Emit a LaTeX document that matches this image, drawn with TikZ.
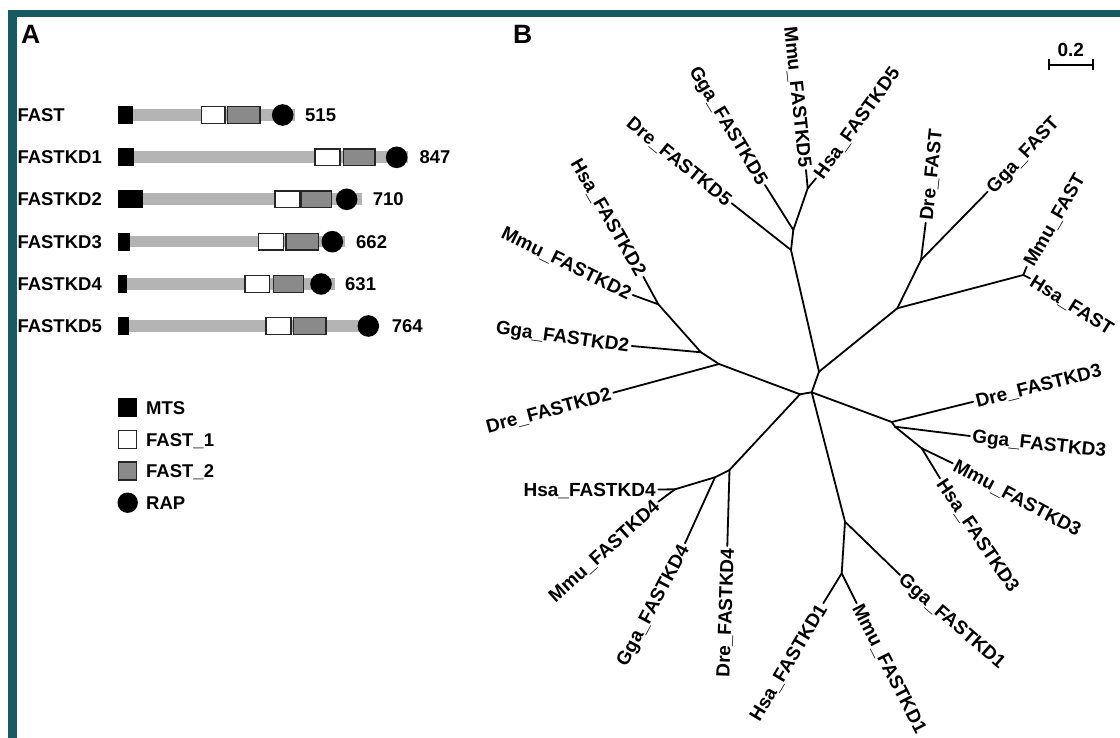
\documentclass[tikz,border=0pt]{standalone}
\usepackage{fontspec}
\setmainfont{Liberation Sans}
\definecolor{framecol}{HTML}{175A64}
\definecolor{barcol}{HTML}{B4B4B4}
\definecolor{dombox}{HTML}{8A8A8A}
\newcommand\tlabfont{\fontsize{19}{19}\selectfont\bfseries}
\newcommand\rowfont{\fontsize{18.5}{18.5}\selectfont\bfseries}
\newcommand\panelfont{\fontsize{26.5}{26.5}\selectfont\bfseries}
\begin{document}
\begin{tikzpicture}[x=1pt,y=-1pt,
  br/.style={line width=1.8pt, line cap=round, line join=round},
  lab/.style={font=\tlabfont, inner sep=2.5pt, text height=13.5pt, text depth=0pt},
  rowlab/.style={font=\rowfont, inner sep=0pt, text height=13.3pt, text depth=0pt, anchor=west},
  mtsbox/.style={fill=black},
  fonebox/.style={fill=white, draw=black!85, line width=1.4pt},
  ftwobox/.style={fill=dombox, draw=black!85, line width=1.4pt},
  rapdot/.style={fill=black},
  barstyle/.style={fill=barcol},
  framefill/.style={fill=framecol}]
\useasboundingbox (0,0) rectangle (1120,738);
\fill[white] (0,0) rectangle (1120,738);
% frame
\fill[framefill] (8,10) rectangle (1120,17);
\fill[framefill] (8,10) rectangle (17,738);

% panel letters
\node[font=\panelfont, inner sep=0pt, anchor=north west] (pA) at (21,25) {A};
\node[font=\panelfont, inner sep=0pt, anchor=north west] (pB) at (513,25) {B};

% ---------- Panel A ----------
% rows: y, mts end, fast1 s/e, fast2 s/e, rap x, bar end, number, number x
\foreach \nm/\yy/\me/\as/\ae/\bs/\be/\cx/\bend/\num/\nx/\id in {
  FAST/115/132.7/201.7/225/227.7/260/282.7/295/515/305/r0,
  FASTKD1/157.3/134.3/315/340/343.3/375/396.7/408.3/847/419.3/r1,
  FASTKD2/199.3/143.3/275/300/301.7/331.7/346.7/361.7/710/372.7/r2,
  FASTKD3/241.7/130/258.3/283.3/286/318.3/332.3/345/662/356/r3,
  FASTKD4/284/126.7/245/269.3/273.3/303.3/321/335/631/345/r4,
  FASTKD5/326/129/266/291/293.3/326/368.3/370/764/391.7/r5}{
  \node[rowlab] (\id name) at (17.3,\yy) {\nm};
  \fill[barstyle] (\me,\yy-5.8) rectangle (\bend,\yy+5.8);
  \fill[mtsbox] (118.3,\yy-9) rectangle (\me,\yy+9);
  \filldraw[fonebox] (\as,\yy-8.3) rectangle (\ae,\yy+8.3);
  \filldraw[ftwobox] (\bs,\yy-8.3) rectangle (\be,\yy+8.3);
  \fill[rapdot] (\cx,\yy) circle (10.8);
  \node[rowlab] (\id num) at (\nx,\yy) {\num};
}

% legend
\fill[mtsbox] (117.7,398.3) rectangle (137.3,417.3);
\node[rowlab] (lgmts) at (146,407.8) {MTS};
\filldraw[fonebox] (118.4,430.7) rectangle (136.6,448.7);
\node[rowlab] (lgf1) at (146,439.7) {FAST\_1};
\filldraw[ftwobox] (118.4,462) rectangle (136.6,480);
\node[rowlab] (lgf2) at (146,471) {FAST\_2};
\fill[rapdot] (127.7,502.7) circle (10.2);
\node[rowlab] (lgrap) at (146,502.7) {RAP};

% ---------- Panel B: scale bar ----------
\coordinate (sbL) at (1049,65);
\coordinate (sbR) at (1092.7,65);
\draw[br, line cap=butt] (sbL) -- (sbR);
\draw[br, line cap=butt] (1049,59.5) -- (1049,70.5);
\draw[br, line cap=butt] (1092.7,59.5) -- (1092.7,70.5);
\node[font=\tlabfont, inner sep=0pt, anchor=base] (sbt) at (1070.7,57) {0.2};

% ---------- Panel B: tree ----------
% internal nodes
\coordinate (n1) at (800,394.3);
\coordinate (n2) at (811.7,392.3);
\coordinate (n3) at (819,371.7);
\coordinate (a5) at (791,250);
\coordinate (b5) at (793.3,230);
\coordinate (c5) at (807.7,188.3);
\coordinate (f0) at (897.3,308.3);
\coordinate (f1) at (921,260);
\coordinate (f2) at (1023.3,275);
\coordinate (d2) at (719,364);
\coordinate (e2) at (701,352.3);
\coordinate (g2) at (658.3,304.3);
\coordinate (g4) at (729.5,470);
\coordinate (h4) at (715,477.3);
\coordinate (i4) at (675,489.3);
\coordinate (j1) at (845,521.7);
\coordinate (k1) at (841.7,573.3);
\coordinate (l3) at (891.7,422);
\coordinate (m3) at (895,426.7);
\coordinate (o3) at (921.7,448.3);
% leaves
\coordinate (lDreF) at (925.7,222.7);
\coordinate (lGgaF) at (987.7,191.7);
\coordinate (lMmuF) at (1026.7,266.7);
\coordinate (lHsaF) at (1030,278.3);
\coordinate (lDre5) at (731.7,203.3);
\coordinate (lGga5) at (765,185);
\coordinate (lMmu5) at (806,170);
\coordinate (lHsa5) at (816,178.3);
\coordinate (lHsa2) at (643.3,276.7);
\coordinate (lMmu2) at (632.7,295);
\coordinate (lGga2) at (631.7,346);
\coordinate (lDre2) at (613.3,392.7);
\coordinate (lHsa4) at (658.3,489.5);
\coordinate (lMmu4) at (658.3,501.7);
\coordinate (lGga4) at (685,543.3);
\coordinate (lDre4) at (727.3,546);
\coordinate (lHsa1) at (823.3,603.3);
\coordinate (lMmu1) at (856.7,603.3);
\coordinate (lGga1) at (900,575);
\coordinate (lDre3) at (973.3,401.7);
\coordinate (lGga3) at (970,436);
\coordinate (lMmu3) at (952.7,463.3);
\coordinate (lHsa3) at (940,478.3);

% branches
\draw[br] (n1) -- (n2);
\draw[br] (n2) -- (n3);
\draw[br] (n3) -- (a5);
\draw[br] (n3) -- (f0);
\draw[br] (n2) -- (l3);
\draw[br] (n2) -- (j1);
\draw[br] (n1) -- (d2);
\draw[br] (n1) -- (g4);
\draw[br] (a5) -- (lDre5);
\draw[br] (a5) -- (b5);
\draw[br] (b5) -- (lGga5);
\draw[br] (b5) -- (c5);
\draw[br] (c5) -- (lMmu5);
\draw[br] (c5) -- (lHsa5);
\draw[br] (f0) -- (f1);
\draw[br] (f1) -- (lDreF);
\draw[br] (f1) -- (lGgaF);
\draw[br] (f0) -- (f2);
\draw[br] (f2) -- (lMmuF);
\draw[br] (f2) -- (lHsaF);
\draw[br] (d2) -- (lDre2);
\draw[br] (d2) -- (e2);
\draw[br] (e2) -- (lGga2);
\draw[br] (e2) -- (g2);
\draw[br] (g2) -- (lHsa2);
\draw[br] (g2) -- (lMmu2);
\draw[br] (g4) -- (lDre4);
\draw[br] (g4) -- (h4);
\draw[br] (h4) -- (lGga4);
\draw[br] (h4) -- (i4);
\draw[br] (i4) -- (lHsa4);
\draw[br] (i4) -- (lMmu4);
\draw[br] (j1) -- (lGga1);
\draw[br] (j1) -- (k1);
\draw[br] (k1) -- (lHsa1);
\draw[br] (k1) -- (lMmu1);
\draw[br] (l3) -- (lDre3);
\draw[br] (l3) -- (m3);
\draw[br] (m3) -- (lGga3);
\draw[br] (m3) -- (o3);
\draw[br] (o3) -- (lMmu3);
\draw[br] (o3) -- (lHsa3);

% leaf labels
\node[lab, anchor=west, rotate=84] (tDreF) at (lDreF) {Dre\_FAST};
\node[lab, anchor=west, rotate=47] (tGgaF) at (lGgaF) {Gga\_FAST};
\node[lab, anchor=west, rotate=60] (tMmuF) at (lMmuF) {Mmu\_FAST};
\node[lab, anchor=west, rotate=-32] (tHsaF) at (lHsaF) {Hsa\_FAST};
\node[lab, anchor=east, rotate=-39] (tDre5) at (lDre5) {Dre\_FASTKD5};
\node[lab, anchor=east, rotate=-59] (tGga5) at (lGga5) {Gga\_FASTKD5};
\node[lab, anchor=east, rotate=-84] (tMmu5) at (lMmu5) {Mmu\_FASTKD5};
\node[lab, anchor=west, rotate=54] (tHsa5) at (lHsa5) {Hsa\_FASTKD5};
\node[lab, anchor=east, rotate=-60] (tHsa2) at (lHsa2) {Hsa\_FASTKD2};
\node[lab, anchor=east, rotate=-26] (tMmu2) at (lMmu2) {Mmu\_FASTKD2};
\node[lab, anchor=east, rotate=-8] (tGga2) at (lGga2) {Gga\_FASTKD2};
\node[lab, anchor=east, rotate=15] (tDre2) at (lDre2) {Dre\_FASTKD2};
\node[lab, anchor=east, rotate=0] (tHsa4) at (lHsa4) {Hsa\_FASTKD4};
\node[lab, anchor=east, rotate=42] (tMmu4) at (lMmu4) {Mmu\_FASTKD4};
\node[lab, anchor=east, rotate=62] (tGga4) at (lGga4) {Gga\_FASTKD4};
\node[lab, anchor=east, rotate=88] (tDre4) at (lDre4) {Dre\_FASTKD4};
\node[lab, anchor=east, rotate=59] (tHsa1) at (lHsa1) {Hsa\_FASTKD1};
\node[lab, anchor=west, rotate=-63] (tMmu1) at (lMmu1) {Mmu\_FASTKD1};
\node[lab, anchor=west, rotate=-41] (tGga1) at (lGga1) {Gga\_FASTKD1};
\node[lab, anchor=west, rotate=14] (tDre3) at (lDre3) {Dre\_FASTKD3};
\node[lab, anchor=west, rotate=-6] (tGga3) at (lGga3) {Gga\_FASTKD3};
\node[lab, anchor=west, rotate=-28] (tMmu3) at (lMmu3) {Mmu\_FASTKD3};
\node[lab, anchor=west, rotate=-56] (tHsa3) at (lHsa3) {Hsa\_FASTKD3};
\end{tikzpicture}
\end{document}
